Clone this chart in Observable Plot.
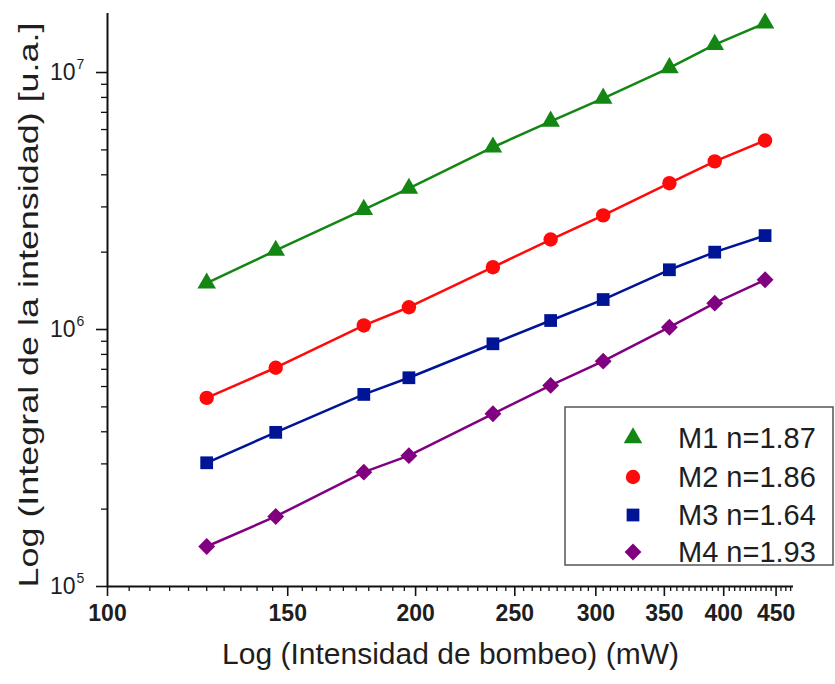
<!DOCTYPE html>
<html>
<head>
<meta charset="utf-8">
<script src="https://cdn.jsdelivr.net/npm/d3@7"></script>
<script src="https://cdn.jsdelivr.net/npm/@observablehq/plot@0.6"></script>
<style>
  html, body { margin: 0; padding: 0; background: #fff; }
  #chart { width: 835px; height: 684px; }
</style>
</head>
<body>
<div id="chart"></div>
<script>
// ---- data ----
const pump = [125, 146, 178, 197, 238, 271, 305, 354, 392, 439]; // mW
const m1 = [1.514e6, 2.03e6, 2.93e6, 3.54e6, 5.12e6, 6.46e6, 7.94e6, 1.043e7, 1.285e7, 1.555e7];
const m2 = [5.42e5, 7.10e5, 1.037e6, 1.221e6, 1.748e6, 2.24e6, 2.78e6, 3.71e6, 4.51e6, 5.44e6];
const m3 = [3.03e5, 3.98e5, 5.59e5, 6.49e5, 8.80e5, 1.084e6, 1.308e6, 1.708e6, 2.00e6, 2.32e6];
const m4 = [1.431e5, 1.873e5, 2.785e5, 3.23e5, 4.70e5, 6.06e5, 7.53e5, 1.021e6, 1.266e6, 1.561e6];

const seriesNames = ["M1 n=1.87", "M2 n=1.86", "M3 n=1.64", "M4 n=1.93"];
const seriesValues = [m1, m2, m3, m4];
const seriesColors = ["#138613", "#ff0a0a", "#001496", "#800080"];
const seriesSymbols = ["triangle", "circle", "square", "diamond2"];
const seriesRadius = [6.9, 7.2, 7.2, 7.6];

const xMajorTicks = [100, 150, 200, 250, 300, 350, 400, 450];
const xMinorTicks = d3.range(105, 466, 5).filter(v => v % 50 !== 0);
const yMajorTicks = [1e5, 1e6, 1e7];
const yMajorBase = ["10", "10", "10"];
const yMajorExp = ["5", "6", "7"];
const yMinorTicks = [2,3,4,5,6,7,8,9].flatMap(k => [k * 1e5, k * 1e6]);

const xTitle = "Log (Intensidad de bombeo) (mW)";
const yTitle = "Log (Integral de la intensidad) [u.a.]";

// tables built from the arrays
const seriesRows = seriesNames.map((name, s) =>
  pump.map((p, i) => ({series: name, x: p, y: seriesValues[s][i]})));
const rows = seriesRows.flat();
const yLabels = yMajorTicks.map((v, i) => ({v, base: yMajorBase[i], exp: yMajorExp[i]}));

const FONT = "'Liberation Sans', Arial, Helvetica, sans-serif";
const TXT = "#1e1e1e";

const chart = Plot.plot({
  width: 835,
  height: 684,
  marginLeft: 107,
  marginRight: 42,
  marginTop: 13,
  marginBottom: 98,
  style: {fontFamily: FONT, fontSize: "22px", color: TXT, background: "#fff", overflow: "visible"},
  x: {type: "log", domain: [100, 468]},
  y: {type: "log", domain: [1e5, 1.697e7]},
  color: {domain: seriesNames, range: seriesColors},
  marks: [
    Plot.axisX(xMinorTicks, {tickSize: 5, tickFormat: () => "", label: null, strokeWidth: 1.3, stroke: "#111"}),
    Plot.axisX(xMajorTicks, {tickSize: 10, tickPadding: 8, tickFormat: d => String(d), label: null,
      fontWeight: "bold", fontSize: 23, strokeWidth: 1.6, stroke: "#111", fill: TXT}),
    Plot.axisY(yMinorTicks, {tickSize: 6, tickFormat: () => "", label: null, strokeWidth: 1.3, stroke: "#111"}),
    Plot.axisY(yMajorTicks, {tickSize: 11, tickFormat: () => "", label: null, strokeWidth: 1.6, stroke: "#111"}),
    Plot.ruleX([100], {stroke: "#111", strokeWidth: 2}),
    Plot.ruleY([1e5], {stroke: "#111", strokeWidth: 2}),
    Plot.text(yLabels, {y: "v", frameAnchor: "left", text: "base", textAnchor: "end", dx: -32, fontSize: 23, fill: TXT}),
    Plot.text(yLabels, {y: "v", frameAnchor: "left", text: "exp", textAnchor: "start", dx: -31, dy: -8, fontSize: 14, fill: TXT}),
    Plot.line(rows, {x: "x", y: "y", z: "series", stroke: "series", strokeWidth: 2.5}),
    ...seriesRows.map((data, s) => Plot.dot(data, {x: "x", y: "y", fill: seriesColors[s],
      symbol: seriesSymbols[s], r: seriesRadius[s], stroke: "none"})),
    Plot.text([xTitle], {frameAnchor: "bottom", dy: 77, fontSize: 30, fill: TXT}),
    Plot.text([yTitle], {frameAnchor: "left", textAnchor: "middle", rotate: -90, dx: -78, dy: 5,
      fontSize: 28, fill: TXT})
  ]
});

document.getElementById("chart").appendChild(chart);

const svg = d3.select(chart);
// stretch the y title to the reference's length
svg.selectAll("text").filter(function() { return this.textContent === yTitle; })
  .attr("textLength", 565).attr("lengthAdjust", "spacingAndGlyphs");

// legend box drawn into the same SVG
const lg = svg.append("g").attr("class", "legend").attr("text-anchor", "start");
lg.append("rect").attr("x", 565).attr("y", 407).attr("width", 268).attr("height", 158)
  .attr("fill", "#fff").attr("stroke", "#555").attr("stroke-width", 1.5);
const rowY = [438, 477, 515, 552];
const symMap = {triangle: d3.symbolTriangle, circle: d3.symbolCircle, square: d3.symbolSquare, diamond2: d3.symbolDiamond2};
seriesNames.forEach((name, i) => {
  const r = seriesRadius[i];
  lg.append("path")
    .attr("d", d3.symbol(symMap[seriesSymbols[i]], Math.PI * r * r)())
    .attr("transform", `translate(633,${rowY[i]})`)
    .attr("fill", seriesColors[i]);
  lg.append("text").attr("x", 678).attr("y", rowY[i]).attr("dy", "0.35em")
    .attr("text-anchor", "start")
    .attr("font-family", FONT).attr("font-size", 29).attr("fill", TXT).text(name);
});
</script>
</body>
</html>
